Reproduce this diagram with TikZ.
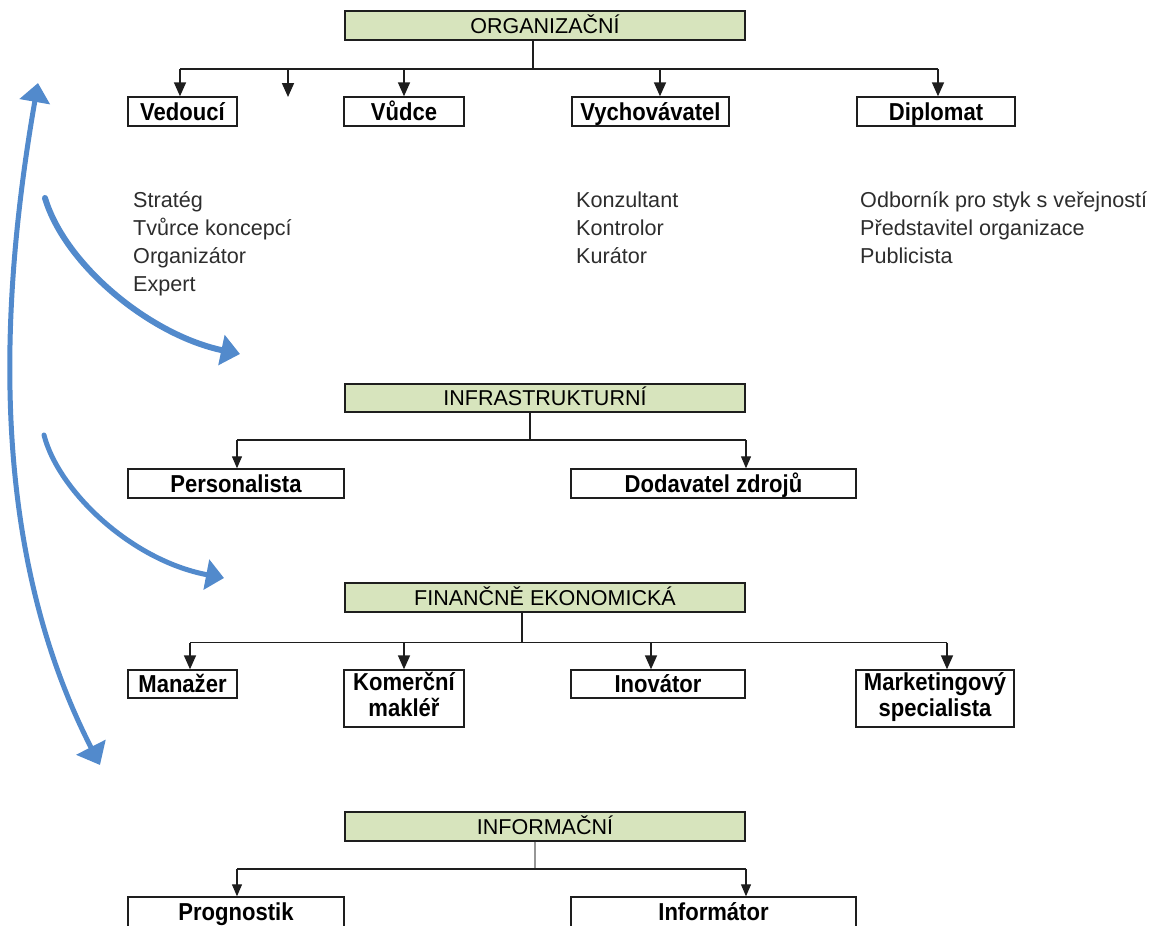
\documentclass[tikz,border=0pt]{standalone}
\usepackage{fontspec}
\setmainfont{Liberation Sans}
\newfontfamily\labelfont[FakeStretch=0.9]{Liberation Sans}
\usetikzlibrary{arrows.meta}

\definecolor{hdrfill}{RGB}{215,228,189}
\definecolor{edge}{RGB}{30,30,30}
\definecolor{flow}{RGB}{82,138,204}
\definecolor{listtext}{RGB}{45,45,45}
\definecolor{thinstem}{RGB}{150,150,150}

\begin{document}
\begin{tikzpicture}[x=1pt,y=-1pt,
  header/.style={draw=edge, line width=1.4pt, fill=hdrfill, minimum width=400pt,
    minimum height=29pt, inner sep=0pt, text height=19pt, text depth=4pt,
    font=\fontsize{21.5}{26}\selectfont},
  rolebase/.style={draw=edge, line width=1.4pt, inner sep=0pt,
    font=\labelfont\bfseries\fontsize{24.5}{26}\selectfont},
  role/.style={rolebase, minimum height=29pt, text height=20pt, text depth=3pt},
  roletwo/.style={rolebase, minimum height=57pt},
  rolecut/.style={rolebase, minimum height=40pt, text height=14pt, text depth=8pt},
  duties/.style={anchor=base west, inner sep=0pt, text=listtext,
    font=\fontsize{21.6}{28}\selectfont},
  bus/.style={draw=edge, line width=1.7pt},
  busthin/.style={draw=edge, line width=1.2pt},
  arr/.style={bus, -{Triangle[width=12pt,length=14pt]}},
  arrthin/.style={busthin, -{Triangle[width=10pt,length=12pt]}},
  flowline/.style={draw=flow, line cap=round}
]
\useasboundingbox (0,0) rectangle (1162,926);
\clip (0,0) rectangle (1162,926);

% ---------- ORGANIZAČNÍ ----------
\node[header] (h1) at (545,25.5) {ORGANIZAČNÍ};
\node[role, minimum width=109pt] (ved)  at (182.5,111.5) {Vedoucí};
\node[role, minimum width=120pt] (vud)  at (404,111.5)   {Vůdce};
\node[role, minimum width=157pt] (vych) at (650.5,111.5) {Vychovávatel};
\node[role, minimum width=158pt] (dipl) at (936,111.5)   {Diplomat};

\coordinate (j1) at (533,69);
\coordinate (a1) at (180,69);
\coordinate (a2) at (288,69);
\coordinate (a2end) at (288,97);
\coordinate (a3) at (404,69);
\coordinate (a4) at (660,69);
\coordinate (a5) at (938,69);
\draw[bus] (h1.south -| j1) -- (j1);
\draw[bus] (a1) -- (a5);
\draw[arr] (a1) -- (a1 |- ved.north);
\draw[arr] (a2) -- (a2end);
\draw[arr] (a3) -- (a3 |- vud.north);
\draw[arr] (a4) -- (a4 |- vych.north);
\draw[arr] (a5) -- (a5 |- dipl.north);

\node[duties] (d1) at (133,207) {\begin{tabular}[t]{@{}l@{}}Stratég\\Tvůrce koncepcí\\Organizátor\\Expert\end{tabular}};
\node[duties] (d2) at (576,207) {\begin{tabular}[t]{@{}l@{}}Konzultant\\Kontrolor\\Kurátor\end{tabular}};
\node[duties] (d3) at (860,207) {\begin{tabular}[t]{@{}l@{}}Odborník pro styk s veřejností\\Představitel organizace\\Publicista\end{tabular}};

% ---------- INFRASTRUKTURNÍ ----------
\node[header, minimum height=28pt] (h2) at (545,398) {INFRASTRUKTURNÍ};
\node[role, minimum width=216pt] (pers) at (236,483.5)   {Personalista};
\node[role, minimum width=285pt] (dod)  at (713.5,483.5) {Dodavatel zdrojů};

\coordinate (j2) at (530,440);
\coordinate (b1) at (237,440);
\coordinate (b2) at (746,440);
\draw[busthin] (h2.south -| j2) -- (j2);
\draw[busthin] (b1) -- (b2);
\draw[arrthin] (b1) -- (b1 |- pers.north);
\draw[arrthin] (b2) -- (b2 |- dod.north);

% ---------- FINANČNĚ EKONOMICKÁ ----------
\node[header] (h3) at (545,597.5) {FINANČNĚ EKONOMICKÁ};
\node[role, minimum width=109pt, minimum height=28pt] (man) at (182.5,684) {Manažer};
\node[roletwo, minimum width=120pt] (kom) at (404,698.5) {\begin{tabular}{@{}c@{}}Komerční\\makléř\end{tabular}};
\node[role, minimum width=174pt, minimum height=28pt] (ino) at (658,684) {Inovátor};
\node[roletwo, minimum width=158pt] (mark) at (935,698.5) {\begin{tabular}{@{}c@{}}Marketingový\\specialista\end{tabular}};

\coordinate (j3) at (522,642.5);
\coordinate (c1) at (190,642.5);
\coordinate (c2) at (404,642.5);
\coordinate (c3) at (651,642.5);
\coordinate (c4) at (947,642.5);
\draw[bus] (h3.south -| j3) -- (j3);
\draw[bus] (c1) -- (c4);
\draw[arr] (c1) -- (c1 |- man.north);
\draw[arr] (c2) -- (c2 |- kom.north);
\draw[arr] (c3) -- (c3 |- ino.north);
\draw[arr] (c4) -- (c4 |- mark.north);

% ---------- INFORMAČNÍ ----------
\node[header] (h4) at (545,826.5) {INFORMAČNÍ};
\node[rolecut, minimum width=216pt] (prog) at (236,917)   {Prognostik};
\node[rolecut, minimum width=285pt] (inf)  at (713.5,917) {Informátor};

\coordinate (j4) at (535,869);
\coordinate (e1) at (237,869);
\coordinate (e2) at (746,869);
\draw[draw=thinstem, line width=1.1pt] (h4.south -| j4) -- (j4);
\draw[busthin] (e1) -- (e2);
\draw[arrthin] (e1) -- (e1 |- prog.north);
\draw[arrthin] (e2) -- (e2 |- inf.north);

% ---------- blue flow arrows ----------
\coordinate (f1s) at (38,83);
\coordinate (f1e) at (100,765);
\draw[flowline, line width=5pt, {Triangle[width=30pt,length=19pt]}-{Triangle[width=32pt,length=20pt]}]
  (f1s) .. controls (-5,330) and (-5,560) .. (f1e);

\coordinate (f2s) at (45,198);
\coordinate (f2e) at (240,354);
\draw[flowline, line width=6pt, -{Triangle[width=30pt,length=19pt]}]
  (f2s) .. controls (65,265) and (150,335) .. (f2e);

\coordinate (f3s) at (44,435);
\coordinate (f3e) at (224,578);
\draw[flowline, line width=5pt, -{Triangle[width=30pt,length=18pt]}]
  (f3s) .. controls (58,490) and (130,560) .. (f3e);
\end{tikzpicture}
\end{document}
